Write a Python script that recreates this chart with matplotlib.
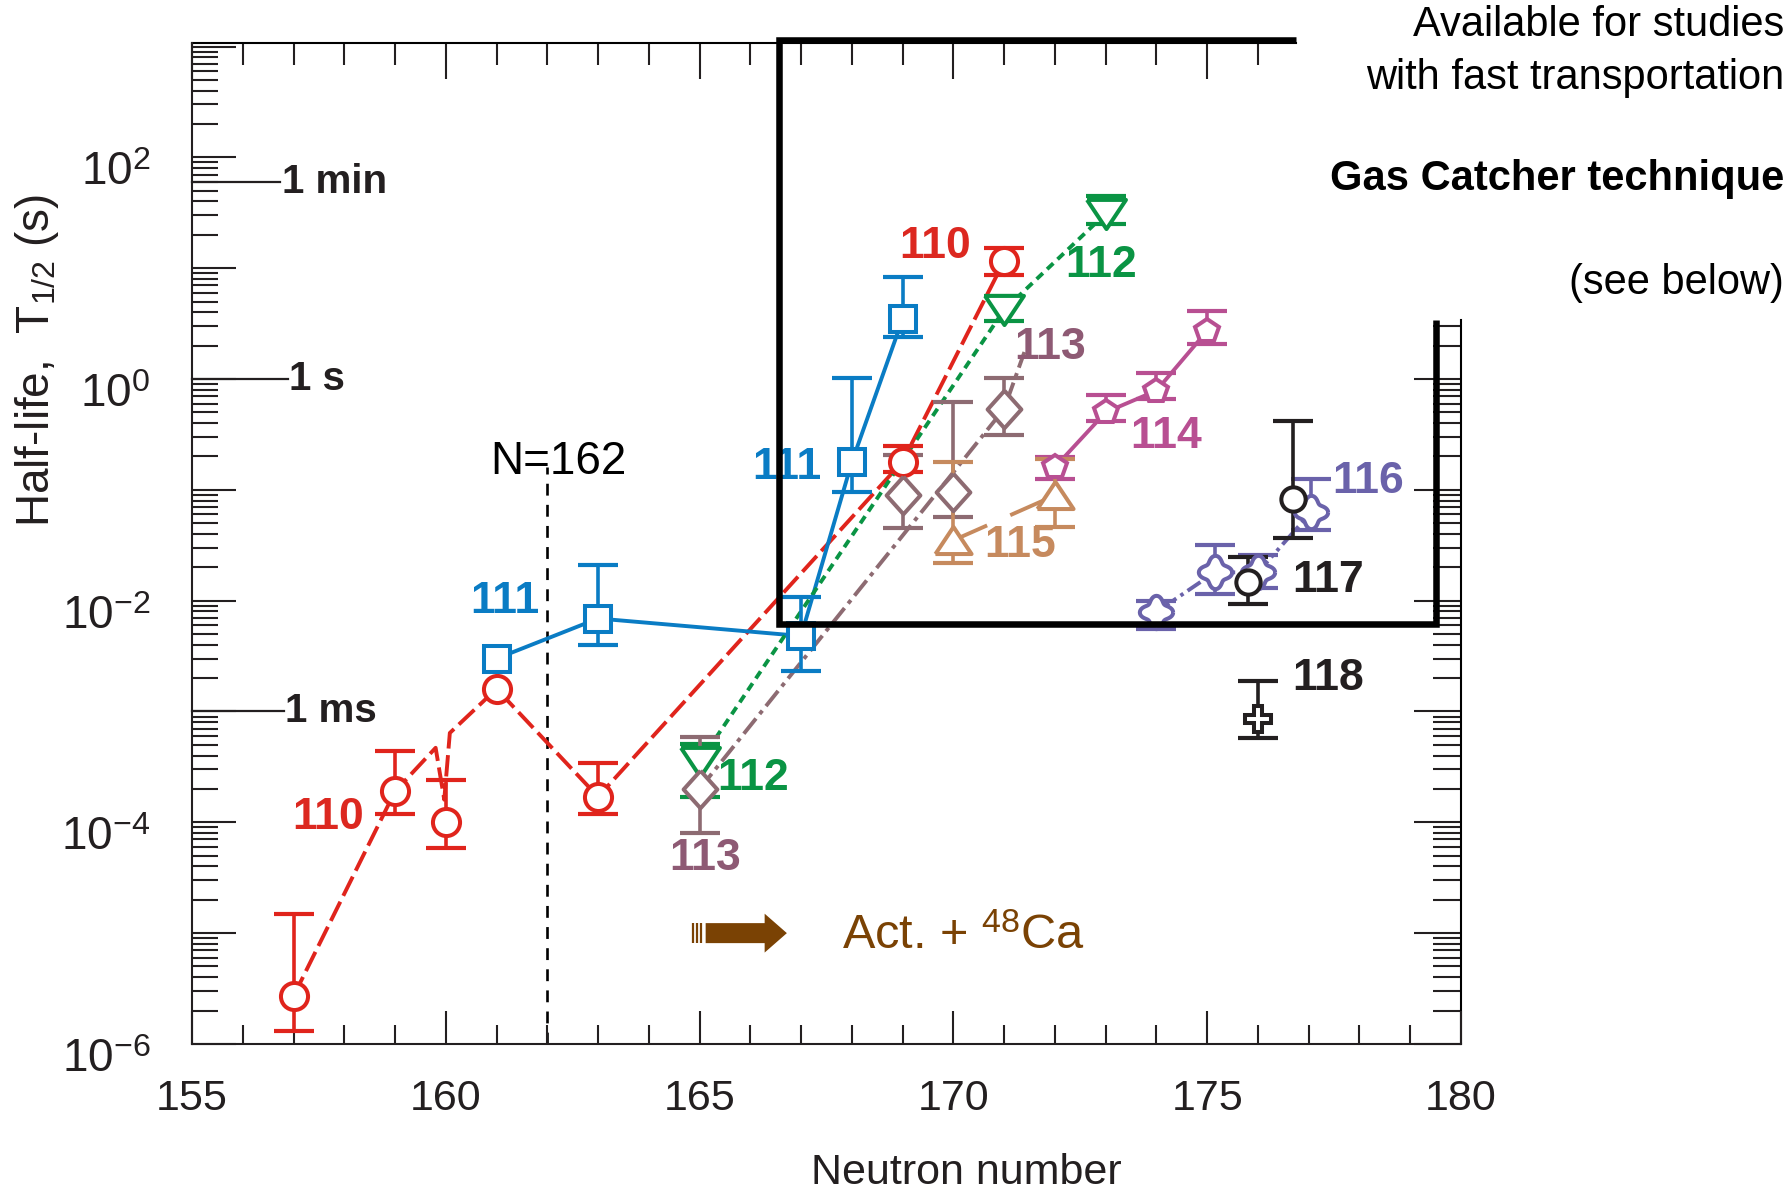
import numpy as np
import matplotlib
matplotlib.use('Agg')
import matplotlib.pyplot as plt
from matplotlib.ticker import LogLocator
from matplotlib.transforms import ScaledTranslation

plt.rcParams['font.family'] = ['Liberation Sans', 'DejaVu Sans']
plt.rcParams['mathtext.fontset'] = 'custom'
plt.rcParams['mathtext.rm'] = 'Liberation Sans'
plt.rcParams['mathtext.it'] = 'Liberation Serif:italic'
plt.rcParams['mathtext.bf'] = 'Liberation Sans:bold'

# ---- half-lives (s) with upper / lower error limits ----
N110 = [157, 159, 160, 161, 163, 169, 171]
T110 = [2.7e-6, 1.9e-4, 1.0e-4, 1.6e-3, 1.7e-4, 0.18, 11.6]
hi110 = [1.5e-5, 4.4e-4, 2.4e-4, 1.6e-3, 3.4e-4, 0.25, 15.3]
lo110 = [1.3e-6, 1.2e-4, 5.9e-5, 1.6e-3, 1.2e-4, 0.145, 8.6]
# connecting line for Z=110 (goes round the isomer at N=160)
path110_N = [157, 159, 159.8, 159.97, 160.08, 161, 163, 169, 171]
path110_T = [2.7e-6, 1.9e-4, 4.7e-4, 1.6e-4, 6.4e-4, 1.6e-3, 1.7e-4, 0.18, 11.6]

N111 = [161, 163, 167, 168, 169]
T111 = [3.0e-3, 6.9e-3, 4.8e-3, 0.178, 3.47]
hi111 = [3.0e-3, 2.1e-2, 1.08e-2, 1.02, 8.4]
lo111 = [3.0e-3, 4.0e-3, 2.3e-3, 0.095, 2.37]

N112 = [165, 171, 173]
T112 = [3.5e-4, 4.2, 31.0]
hi112 = [5.1e-4, 5.6, 44.7]
lo112 = [1.7e-4, 3.35, 24.8]

N113 = [165, 169, 170, 171]
T113 = [2.0e-4, 0.089, 0.095, 0.537]
hi113 = [5.9e-4, 0.207, 0.625, 1.02]
lo113 = [8.0e-5, 0.045, 0.057, 0.31]
path113_N = [165, 171, 171.4]
path113_T = [2.0e-4, 0.537, 1.75]

N114 = [172, 173, 174, 175]
T114 = [0.16, 0.50, 0.785, 2.72]
hi114 = [0.197, 0.71, 1.13, 4.1]
lo114 = [0.126, 0.42, 0.66, 2.07]

N115 = [170, 172]
T115 = [0.035, 0.089]
hi115 = [0.18, 0.19]
lo115 = [0.022, 0.046]

N116 = [174, 175.15, 176, 177.05]
T116 = [7.9e-3, 0.018, 0.018, 0.063]
hi116 = [1.0e-2, 0.032, 0.026, 0.126]
lo116 = [5.6e-3, 0.0116, 0.0129, 0.043]

N117 = [175.8, 176.7]
T117 = [0.0148, 0.082]
hi117 = [0.025, 0.42]
lo117 = [0.0094, 0.037]

N118 = [176.0]
T118 = [8.5e-4]
hi118 = [1.9e-3]
lo118 = [5.8e-4]

# element labels: text, N, T, colour
labels = [('110', 169.64, 15.8, '#dc2820'), ('112', 172.92, 10.5, '#0a9444'),
          ('113', 171.90, 1.94, '#8e5a74'), ('114', 174.20, 0.30, '#b84f92'),
          ('115', 171.31, 0.0316, '#c68a5e'), ('116', 178.17, 0.118, '#6a62aa'),
          ('117', 177.38, 0.0153, '#231f20'), ('118', 177.38, 2.0e-3, '#231f20'),
          ('111', 166.72, 0.160, '#0a7cc4'), ('111', 161.17, 9.8e-3, '#0a7cc4'),
          ('110', 157.68, 1.1e-4, '#dc2820'), ('112', 166.06, 2.5e-4, '#0a9444'),
          ('113', 165.11, 4.7e-5, '#8e5a74')]

time_vals = [60, 1, 1e-3]
time_names = ['1 min', '1 s', '1 ms']
time_line_end = [156.74, 156.89, 156.81]

# outline of the region reachable with fast transport
box_N = [176.75, 166.56, 166.56, 179.5, 179.5]
box_T = [1.14e3, 1.14e3, 6.1e-3, 6.1e-3, 3.4]

# custom marker shapes (closed outlines)
tri_down = [(-1, 0.75), (1, 0.75), (0, -0.75), (-1, 0.75)]
tri_up = [(-1, -0.75), (1, -0.75), (0, 0.75), (-1, -0.75)]
diamond = [(0, 1), (0.9, 0), (0, -1), (-0.9, 0), (0, 1)]
th = np.linspace(0, 2 * np.pi, 81)
rr = 1 + 0.2 * np.cos(4 * th)
clover = list(zip(rr * np.cos(th), rr * np.sin(th)))

fig = plt.figure(figsize=(17.91, 11.95), dpi=100)
ax = fig.add_axes([0.1072, 0.1264, 0.7085, 0.8374])
ax.set_yscale('log')
ax.set_xlim(155, 180)
ax.set_ylim(1e-6, 1.07e3)


def series(N, T, hi, lo, color, marker, ms, pathN=None, pathT=None, dashes=None,
           lw=2.8, joined=True):
    if joined:
        if pathN is None:
            pathN, pathT = N, T
        ln, = ax.plot(pathN, pathT, color=color, lw=lw, zorder=2)
        if dashes is not None:
            ln.set_dashes(dashes)
    N = np.array(N, float)
    T = np.array(T, float)
    hi = np.array(hi, float)
    lo = np.array(lo, float)
    m = hi > lo
    if m.any():
        ax.errorbar(N[m], T[m], yerr=[T[m] - lo[m], hi[m] - T[m]], fmt='none',
                    ecolor=color, elinewidth=2.6, capsize=14.5, capthick=3.0, zorder=3)
    ax.plot(N, T, ls='none', marker=marker, ms=ms, mfc='white', mec=color,
            mew=2.9, zorder=4)


series(N110, T110, hi110, lo110, '#e0241c', 'o', 19.5, path110_N, path110_T, dashes=(5.5, 1.7))
series(N111, T111, hi111, lo111, '#0a7cc4', 's', 19)
series(N112, T112, hi112, lo112, '#0a9444', tri_down, 28, dashes=(2.2, 1.5))
series(N113, T113, hi113, lo113, '#8d6b72', diamond, 27, path113_N, path113_T,
       dashes=(5, 1.5, 1.1, 1.5))
series(N114, T114, hi114, lo114, '#b84f92', 'p', 18)
series(N115, T115, hi115, lo115, '#c68a5e', tri_up, 26, dashes=(9.5, 6.5))
series(N116, T116, hi116, lo116, '#6a62aa', clover, 24, dashes=(4, 1.3, 0.9, 1.3, 0.9, 1.3))
series(N117, T117, hi117, lo117, '#231f20', 'o', 17.5, joined=False)
series(N118, T118, hi118, lo118, '#231f20', 'P', 19, joined=False)

for txt, n, t, c in labels:
    ax.text(n, t, txt, color=c, fontsize=32, fontweight='bold', ha='center', va='center',
            zorder=5)

# N=162 sub-shell closure
ax.plot([162, 162], [1e-6, 0.16], color='black', lw=1.9, dashes=(4.5, 3.5), zorder=1)
ax.text(160.88, 0.179, 'N=162', fontsize=33, ha='left', va='center', color='black')

# time scale markers on the left
for v, name, xe in zip(time_vals, time_names, time_line_end):
    ax.plot([155, xe], [v, v], color='#231f20', lw=1.6, clip_on=False)
    ax.text(xe + 0.03, v, name, fontsize=29, fontweight='bold', va='center', ha='left',
            color='#231f20')

# thick frame
ax.plot(box_N, box_T, color='black', lw=4.7, clip_on=False, zorder=6,
        solid_joinstyle='miter', solid_capstyle='butt')

# Act. + 48Ca arrow
brown = '#7a4204'
ax.annotate('', xy=(166.72, 1e-5), xytext=(165.12, 1e-5),
            arrowprops=dict(arrowstyle='simple,head_length=0.8,head_width=1.4,tail_width=0.72',
                            fc=brown, ec='none', shrinkA=0, shrinkB=0, mutation_scale=20))
ax.plot([164.87, 164.95, 165.03], [1e-5, 1e-5, 1e-5], ls='none', marker='|', ms=14.4,
        mew=1.6, color=brown)
ax.text(167.8, 7.2e-6, 'Act. + $^{48}$Ca', color=brown, fontsize=35, ha='left', va='baseline')

# axes and ticks
for side in ('top', 'right'):
    ax.spines[side].set_visible(False)
for side in ('left', 'bottom'):
    ax.spines[side].set_linewidth(1.5)
    ax.spines[side].set_color('#231f20')

ax.set_xticks(range(155, 181, 5))
ax.set_xticks(range(155, 181), minor=True)
ax.set_yticks([10.0 ** e for e in range(-6, 4)])
ax.set_yticklabels([f'$10^{{{e}}}$' if (e % 2 == 0 and e < 3) else '' for e in range(-6, 4)])
ax.yaxis.set_minor_locator(LogLocator(base=10, subs=np.arange(2, 10), numticks=30))
ax.tick_params(which='both', direction='in', top=False, right=False, width=1.5,
               color='#231f20', labelcolor='#231f20')
ax.tick_params(axis='x', which='major', length=24, pad=25, labelsize=31)
ax.tick_params(axis='x', which='minor', length=14)
ax.tick_params(axis='y', which='major', length=32, pad=30, labelsize=33)
ax.tick_params(axis='y', which='minor', length=19)
shift = ScaledTranslation(0, -8 / 72, fig.dpi_scale_trans)
for lab in ax.get_yticklabels():
    lab.set_transform(lab.get_transform() + shift)

top = ax.secondary_xaxis('top')
top.set_xticks(range(155, 177, 5))
top.set_xticks(range(155, 177), minor=True)
top.tick_params(which='both', direction='in', labeltop=False, width=1.5, color='#231f20')
top.tick_params(which='major', length=26)
top.tick_params(which='minor', length=16)
top.spines['top'].set_bounds(155, 176.75)
top.spines['top'].set_linewidth(1.5)

rgt = ax.secondary_yaxis('right')
rgt.set_yticks([10.0 ** e for e in range(-6, 1)])
rgt.set_yticks([k * 10.0 ** e for e in range(-6, 1) for k in range(2, 10) if k * 10.0 ** e < 3.4],
               minor=True)
rgt.tick_params(which='both', direction='in', labelright=False, width=1.5, color='#231f20')
rgt.tick_params(which='major', length=34)
rgt.tick_params(which='minor', length=20)
rgt.spines['right'].set_bounds(1e-6, 3.4)
rgt.spines['right'].set_linewidth(1.5)

fig.text(0.5394, 0.0184, 'Neutron number', fontsize=31, ha='center', va='center',
         color='#231f20')
fig.text(0.0205, 0.698, r'Half-life,  T$_{\mathit{1/2}}$ (s)', fontsize=33, rotation=90,
         ha='center', va='center', color='#231f20')

fig.text(0.9961, 0.979, 'Available for studies', fontsize=30, ha='right', va='center')
fig.text(0.9961, 0.9347, 'with fast transportation', fontsize=30, ha='right', va='center')
fig.text(0.9961, 0.850, 'Gas Catcher technique', fontsize=30, fontweight='bold',
         ha='right', va='center')
fig.text(0.9961, 0.763, '(see below)', fontsize=30, ha='right', va='center')

fig.savefig('out.png', dpi=100)
